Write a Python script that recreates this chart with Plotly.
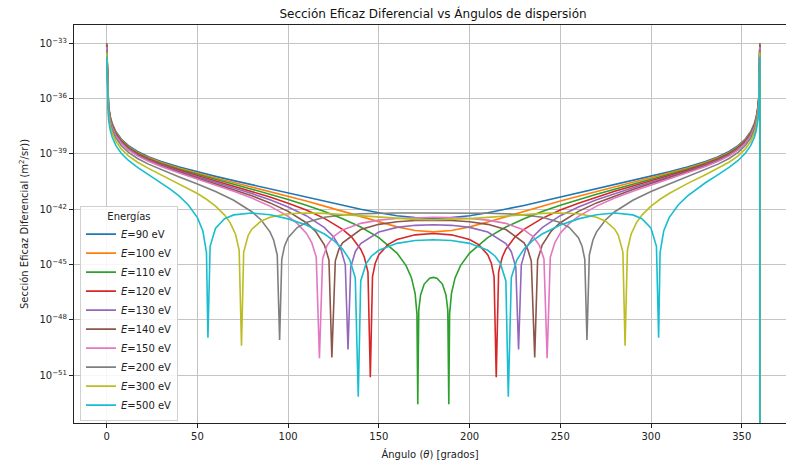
import plotly.graph_objects as go

# ---------------- data (log10 of dσ/dΩ in m^2/sr) ----------------
energies_ev = [90, 100, 110, 120, 130, 140, 150, 200, 300, 500]

grid_a = [0.02, 0.5, 1, 2, 3, 5, 8, 12, 17, 23, 30, 40, 50, 60, 70, 80, 90,
          100, 110, 120, 130, 140, 150, 160, 170, 180]

theta_90 = grid_a
log_90 = [-32.983, -35.778, -36.381, -36.983, -37.335, -37.780, -38.192, -38.550, -38.864,
          -39.145, -39.405, -39.709, -39.972, -40.214, -40.445, -40.671, -40.895, -41.120,
          -41.344, -41.568, -41.789, -41.999, -42.190, -42.347, -42.453, -42.490]

theta_100 = grid_a
log_100 = [-33.028, -35.824, -36.426, -37.029, -37.381, -37.826, -38.238, -38.598, -38.913,
           -39.197, -39.460, -39.771, -40.044, -40.298, -40.545, -40.790, -41.038, -41.293,
           -41.555, -41.828, -42.110, -42.399, -42.687, -42.952, -43.149, -43.224]

theta_110 = [0.02, 0.5, 1, 2, 3, 5, 8, 12, 17, 23, 30, 40, 50, 60, 70, 80, 90, 100, 110, 120,
             130, 140, 150, 160, 165, 168, 170, 171, 171.45, 172, 173, 175, 178, 180]
log_110 = [-33.070, -35.866, -36.468, -37.070, -37.423, -37.868, -38.280, -38.640, -38.957,
           -39.243, -39.511, -39.829, -40.112, -40.379, -40.642, -40.908, -41.184, -41.474,
           -41.785, -42.125, -42.510, -42.963, -43.537, -44.373, -45.051, -45.720, -46.569,
           -47.666, -52.570, -47.464, -46.646, -46.053, -45.741, -45.693]

theta_120 = [0.02, 0.5, 1, 2, 3, 5, 8, 12, 17, 23, 30, 40, 50, 60, 70, 80, 90, 100, 110, 120,
             130, 135, 140, 142, 144, 145.3, 146.5, 148, 150, 155, 160, 170, 180]
log_120 = [-33.108, -35.904, -36.506, -37.108, -37.461, -37.906, -38.319, -38.680, -38.998,
           -39.286, -39.558, -39.884, -40.176, -40.457, -40.737, -41.026, -41.333, -41.666,
           -42.042, -42.490, -43.086, -43.509, -44.161, -44.597, -45.403, -51.110, -45.646,
           -44.927, -44.467, -43.916, -43.643, -43.385, -43.316]

theta_130 = [0.02, 0.5, 1, 2, 3, 5, 8, 12, 17, 23, 30, 40, 50, 60, 70, 80, 90, 100, 110, 120,
             125, 129, 131.5, 133.0, 134.5, 137, 140, 150, 160, 170, 180]
log_130 = [-33.142, -35.938, -36.540, -37.143, -37.496, -37.941, -38.354, -38.716, -39.035,
           -39.327, -39.602, -39.935, -40.238, -40.532, -40.831, -41.146, -41.488, -41.875,
           -42.345, -42.993, -43.489, -44.145, -45.010, -49.600, -45.138, -44.298, -43.852,
           -43.229, -42.981, -42.869, -42.835]

theta_140 = [0.02, 0.5, 1, 2, 3, 5, 8, 12, 17, 23, 30, 40, 50, 60, 70, 80, 90, 100, 110, 115,
             120, 122.5, 124.1, 126, 128, 130, 140, 150, 160, 170, 180]
log_140 = [-33.175, -35.971, -36.573, -37.175, -37.528, -37.974, -38.387, -38.750, -39.071,
           -39.364, -39.643, -39.985, -40.298, -40.607, -40.925, -41.268, -41.652, -42.111,
           -42.729, -43.182, -43.935, -44.747, -50.030, -44.791, -44.162, -43.821, -43.096,
           -42.816, -42.675, -42.607, -42.586]

theta_150 = [0.02, 0.5, 1, 2, 3, 5, 8, 12, 17, 23, 30, 40, 50, 60, 70, 80, 90, 100, 105, 110,
             113, 115.5, 117.25, 119, 121.5, 125, 130, 140, 150, 160, 170, 180]
log_150 = [-33.205, -36.000, -36.602, -37.205, -37.558, -38.004, -38.418, -38.781, -39.103,
           -39.399, -39.682, -40.032, -40.356, -40.680, -41.020, -41.393, -41.828, -42.385,
           -42.761, -43.293, -43.800, -44.598, -50.080, -44.694, -43.949, -43.477, -43.118,
           -42.761, -42.587, -42.495, -42.448, -42.434]

theta_200 = [0.02, 0.5, 1, 2, 3, 5, 8, 12, 17, 23, 30, 40, 50, 60, 70, 80, 85, 90, 92, 94,
             95.3, 96.5, 98, 100, 105, 110, 120, 130, 140, 150, 160, 170, 180]
log_200 = [-33.330, -36.125, -36.728, -37.330, -37.683, -38.130, -38.546, -38.913, -39.243,
           -39.551, -39.854, -40.244, -40.628, -41.038, -41.513, -42.131, -42.563, -43.224,
           -43.664, -44.476, -49.090, -44.709, -43.996, -43.538, -42.989, -42.714, -42.434,
           -42.305, -42.242, -42.214, -42.203, -42.200, -42.199]

theta_300 = [0.02, 0.5, 1, 2, 3, 5, 8, 12, 17, 23, 30, 40, 50, 55, 60, 65, 68, 71, 73, 74.3,
             75.5, 78, 80, 85, 90, 100, 110, 120, 130, 140, 150, 160, 170, 180]
log_300 = [-33.506, -36.301, -36.904, -37.507, -37.860, -38.308, -38.728, -39.104, -39.449,
           -39.783, -40.128, -40.609, -41.142, -41.455, -41.828, -42.314, -42.720, -43.351,
           -44.210, -49.400, -44.323, -43.407, -43.079, -42.649, -42.434, -42.244, -42.199,
           -42.223, -42.283, -42.360, -42.437, -42.503, -42.548, -42.563]

theta_500 = [0.02, 0.5, 1, 2, 3, 5, 8, 12, 17, 23, 30, 35, 40, 45, 50, 53, 55, 55.8, 57, 60,
             65, 70, 80, 90, 100, 110, 120, 125, 130, 134, 137, 138.65, 140, 143, 146, 150,
             160, 170, 180]
log_500 = [-33.727, -36.523, -37.126, -37.729, -38.084, -38.535, -38.963, -39.355, -39.731,
           -40.120, -40.562, -40.901, -41.287, -41.764, -42.452, -43.178, -44.347, -48.960,
           -44.010, -43.029, -42.512, -42.303, -42.200, -42.296, -42.519, -42.856, -43.342,
           -43.680, -44.149, -44.751, -45.711, -52.160, -45.884, -44.935, -44.531, -44.222,
           -43.847, -43.695, -43.651]

thetas = [theta_90, theta_100, theta_110, theta_120, theta_130, theta_140, theta_150,
          theta_200, theta_300, theta_500]
logs = [log_90, log_100, log_110, log_120, log_130, log_140, log_150, log_200, log_300, log_500]

# value at exactly 360° collapses to ~0 in the reference (line drops off the axis)
end_value = 1e-60

x_ticks = [0, 50, 100, 150, 200, 250, 300, 350]
y_exponents = [-33, -36, -39, -42, -45, -48, -51]

colors = ["#1f77b4", "#ff7f0e", "#2ca02c", "#d62728", "#9467bd",
          "#8c564b", "#e377c2", "#7f7f7f", "#bcbd22", "#17becf"]

# ---------------- figure ----------------
FONT = "DejaVu Sans"
fig = go.Figure()
for e, th, lg, c in zip(energies_ev, thetas, logs, colors):
    # curve is symmetric about 180°: second half mirrors the first
    xs = list(th) + [360 - t for t in reversed(th[:-1])] + [360]
    ys = [10 ** v for v in lg] + [10 ** v for v in reversed(lg[:-1])] + [end_value]
    fig.add_trace(go.Scatter(x=xs, y=ys, mode="lines",
                             line=dict(color=c, width=1.6),
                             name=f"<i>E</i>={e} eV"))

axis_common = dict(showgrid=True, gridcolor="#c4c4c4", gridwidth=0.8,
                   showline=True, linecolor="#222222", linewidth=1,
                   ticks="outside", ticklen=4, tickwidth=0.8, tickcolor="#222222",
                   zeroline=False, tickfont=dict(family=FONT, size=10, color="#222222"))

fig.update_layout(
    width=786, height=468,
    margin=dict(l=74, r=0, t=25, b=45),
    paper_bgcolor="white", plot_bgcolor="white",
    font=dict(family=FONT, size=10, color="#222222"),
    title=dict(text="Sección Eficaz Diferencial vs Ángulos de dispersión",
               x=0.5042, xref="paper", xanchor="center",
               y=1 - 14 / 468, yref="container", yanchor="middle",
               font=dict(family=FONT, size=12, color="#111111")),
    xaxis=dict(range=[-18.02, 374.4], tickvals=x_ticks, mirror=True,
               title=dict(text="Ángulo (<i>θ</i>) [grados]", standoff=9,
                          font=dict(family=FONT, size=10)),
               **axis_common),
    yaxis=dict(type="log", range=[-53.586, -32.008],
               tickvals=[10 ** k for k in y_exponents],
               ticktext=[f"10<sup>−{abs(k)}</sup>" for k in y_exponents],
               mirror=False,
               title=dict(text="Sección Eficaz Diferencial (m<sup>2</sup>/sr))", standoff=8,
                          font=dict(family=FONT, size=10)),
               **axis_common),
    legend=dict(x=0.0084, y=0.006, xanchor="left", yanchor="bottom",
                bgcolor="rgba(255,255,255,0.85)", bordercolor="#d0d0d0", borderwidth=1,
                font=dict(family=FONT, size=10, color="#222222"),
                title=dict(text="Energías", side="top center",
                           font=dict(family=FONT, size=10, color="#222222")),
                tracegroupgap=0),
    showlegend=True,
)

fig.write_html("out.html")
